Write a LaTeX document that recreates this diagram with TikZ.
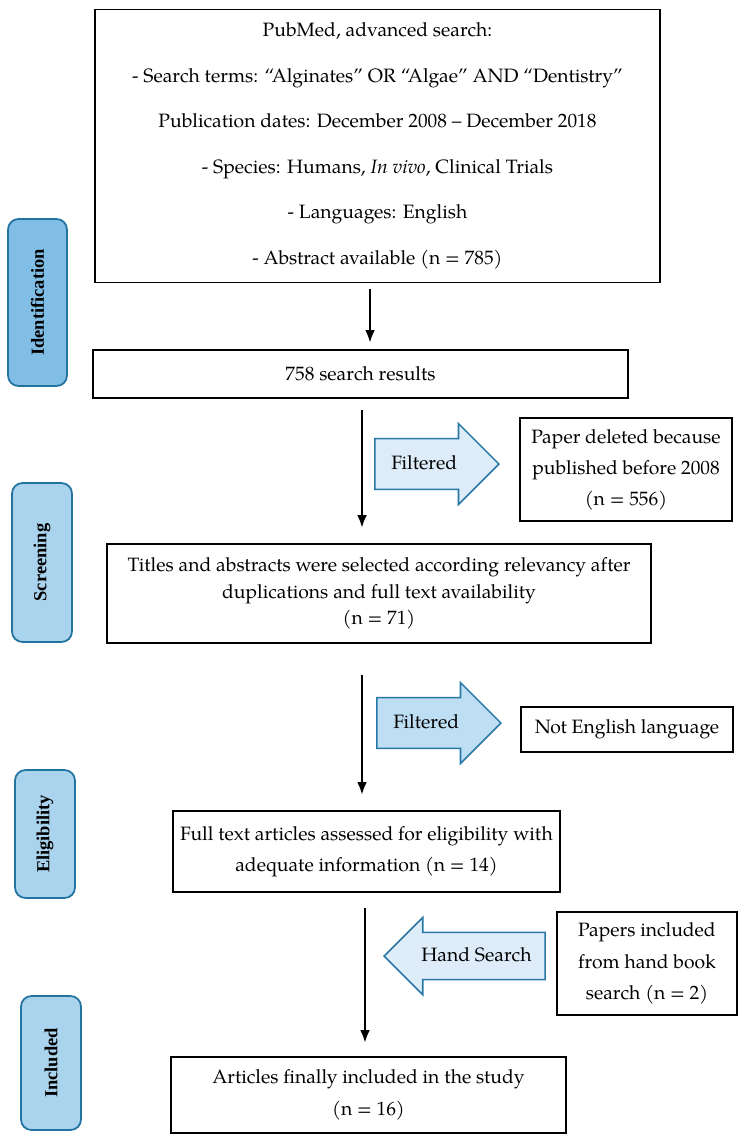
\documentclass[tikz,border=0pt]{standalone}
\usepackage{fontspec}
\setmainfont{TeX Gyre Pagella}
\newfontfamily\stagefont{Liberation Serif}
\usetikzlibrary{shapes.arrows, arrows.meta}

\definecolor{stageline}{RGB}{35,115,160}
\definecolor{stagedark}{RGB}{128,190,230}
\definecolor{stagelight}{RGB}{170,211,238}
\definecolor{arrowline}{RGB}{40,120,165}
\definecolor{arrowpale}{RGB}{221,236,248}
\definecolor{arrowmid}{RGB}{190,222,243}

\tikzset{
  box/.style={draw, line width=0.8pt, align=center, inner sep=0pt,
    font=\fontsize{11}{#1}\selectfont},
  box/.default=15pt,
  sz/.style 2 args={minimum width=#1*0.02cm, minimum height=#2*0.02cm},
  stage/.style={draw=stageline, line width=1pt, rounded corners=6pt, rotate=90,
    inner sep=0pt, font=\stagefont\bfseries\fontsize{10.5}{12}\selectfont},
  blockarrow/.style={single arrow, draw=arrowline, line width=0.9pt, anchor=tip,
    single arrow head extend=0.3cm, inner ysep=11pt, text height=6pt, text depth=0pt,
    font=\fontsize{11}{12}\selectfont}
}

\begin{document}
\begin{tikzpicture}[x=0.02cm, y=-0.02cm, >={Latex[length=7pt,width=5.5pt]}]
  \useasboundingbox (0,0) rectangle (746,1143);

  % colonne de gauche
  \node[stage, fill=stagedark, sz={167}{59}] (ident) at (37.5,302.5) {Identification};
  \node[stage, fill=stagelight, sz={159}{60}] (screen) at (42,562.5) {Screening};
  \node[stage, fill=stagelight, sz={128}{60}] (elig) at (45,834) {Eligibility};
  \node[stage, fill=stagelight, sz={134}{60}] (incl) at (51,1063) {Included};

  \node[box=25.9pt, sz={565}{273}] (search) at (377.5,146) {PubMed, advanced search:\\
    - Search terms: “Alginates” OR “Algae” AND “Dentistry”\\
    Publication dates: December 2008 – December 2018\\
    - Species: Humans, \textit{In vivo}, Clinical Trials\\
    - Languages: English\\
    - Abstract available (n = 785)};
  \node[box, sz={535}{48}] (results) at (360.5,374) {758 search results};
  \node[box=15pt, sz={544}{99}] (titles) at (379,593.5) {Titles and abstracts were selected according relevancy after\\
    duplications and full text availability\\ (n = 71)};
  \node[box=18pt, sz={387}{81}] (fulltext) at (366.5,851.5) {Full text articles assessed for eligibility with\\
    adequate information (n = 14)};
  \node[box=18pt, sz={395}{76}] (articles) at (368.5,1095) {Articles finally included in the study\\ (n = 16)};

  \node[box=17.6pt, sz={212}{103}] (deleted) at (626,469.5) {Paper deleted because\\ published before 2008\\ (n = 556)};
  \node[box, sz={212}{45}] (english) at (627,729.5) {Not English language};
  \node[box=18pt, sz={180}{103}] (hand) at (647,963.5) {Papers included\\ from hand book\\ search (n = 2)};

  \node[blockarrow, fill=arrowpale, minimum height=124*0.02cm] (filt1) at (500,464) {Filtered};
  \node[blockarrow, fill=arrowmid, minimum height=124*0.02cm] (filt2) at (502,723) {Filtered};
  \node[blockarrow, fill=arrowpale, shape border rotate=180, inner ysep=10pt,
    minimum height=161*0.02cm] (handarr) at (383,956) {Hand Search};

  \coordinate (c1) at (370,289);
  \coordinate (c2) at (362,410);
  \coordinate (c3) at (362,675);
  \coordinate (c4) at (365,908);

  \draw[->, line width=0.6pt, shorten >=0.14cm] (c1) -- (c1 |- results.north);
  \draw[->, line width=0.6pt, shorten >=0.32cm] (c2) -- (c2 |- titles.north);
  \draw[->, line width=0.6pt, shorten >=0.32cm] (c3) -- (c3 |- fulltext.north);
  \draw[->, line width=0.6pt, shorten >=0.28cm] (c4) -- (c4 |- articles.north);
\end{tikzpicture}
\end{document}
